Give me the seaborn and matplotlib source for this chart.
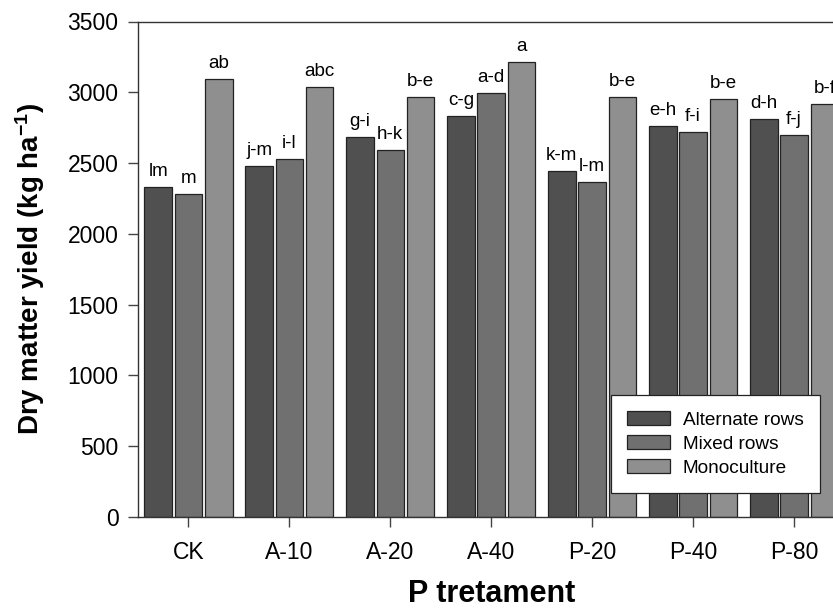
import matplotlib
matplotlib.use("Agg")
import matplotlib.pyplot as plt
import seaborn as sns
import pandas as pd

# data
treatments = ["CK", "A-10", "A-20", "A-40", "P-20", "P-40", "P-80"]
systems = ["Alternate rows", "Mixed rows", "Monoculture"]

alternate = [2333, 2479, 2682, 2830, 2442, 2764, 2811]
mixed = [2282, 2529, 2590, 2997, 2369, 2717, 2696]
mono = [3092, 3037, 2967, 3214, 2969, 2950, 2917]

letters_alt = ["lm", "j-m", "g-i", "c-g", "k-m", "e-h", "d-h"]
letters_mix = ["m", "i-l", "h-k", "a-d", "l-m", "f-i", "f-j"]
letters_mono = ["ab", "abc", "b-e", "a", "b-e", "b-e", "b-f"]

colors = ["#505050", "#707070", "#8f8f8f"]

df = pd.DataFrame({
    "treatment": treatments * 3,
    "system": [s for s in systems for _ in treatments],
    "yield": alternate + mixed + mono,
})

sns.set_style("ticks")
plt.rcParams["font.family"] = ["Liberation Sans", "DejaVu Sans"]
plt.rcParams["mathtext.default"] = "regular"
plt.rcParams["text.color"] = "black"
plt.rcParams["axes.labelcolor"] = "black"
plt.rcParams["xtick.color"] = "black"
plt.rcParams["ytick.color"] = "black"

fig = plt.figure(figsize=(8.33, 6.11), dpi=100)
ax = fig.add_axes([138 / 833, 94 / 611, 706.5 / 833, 495.5 / 611])

sns.barplot(data=df, x="treatment", y="yield", hue="system",
            order=treatments, hue_order=systems, palette=colors,
            width=0.9, gap=0.09, edgecolor="#222222", linewidth=0.9,
            saturation=1, errorbar=None, ax=ax)

for cont, labs in zip(ax.containers, [letters_alt, letters_mix, letters_mono]):
    ax.bar_label(cont, labels=labs, padding=5, fontsize=13.5, clip_on=False)

ax.set_xlim(-0.5, len(treatments) - 0.5)
ax.set_ylim(0, 3500)
ax.set_yticks(range(0, 3501, 500))
ax.tick_params(axis="both", labelsize=16.5, length=7, width=1,
               direction="out", color="#444444")
ax.tick_params(axis="y", pad=7)
ax.tick_params(axis="x", pad=10)

for side in ["top", "left", "bottom"]:
    ax.spines[side].set_visible(True)
    ax.spines[side].set_color("#333333")
    ax.spines[side].set_linewidth(1)
ax.spines["right"].set_visible(False)

ax.set_xlabel("P tretament", fontsize=22, fontweight="bold", labelpad=11)
ax.set_ylabel("Dry matter yield (kg ha$^{-1}$)", fontsize=20,
              fontweight="bold", labelpad=15)

leg = ax.legend(loc="lower right", bbox_to_anchor=(0.965, 0.048),
                borderaxespad=0, frameon=True, fancybox=False,
                edgecolor="#222222", facecolor="white", framealpha=1,
                fontsize=13.7, handlelength=2.3, handleheight=0.75,
                labelspacing=0.35, borderpad=0.85, handletextpad=0.65,
                title=None)
leg.get_frame().set_linewidth(0.9)

fig.savefig("out.png", dpi=100)
